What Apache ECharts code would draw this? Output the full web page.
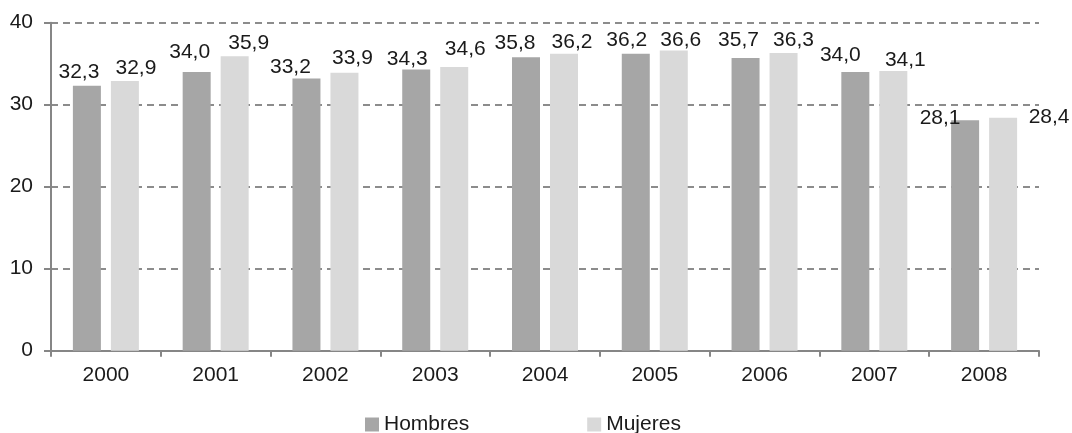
<!DOCTYPE html>
<html>
<head>
<meta charset="utf-8">
<script src="https://cdn.jsdelivr.net/npm/echarts@6/dist/echarts.min.js"></script>
<style>
  html, body { margin: 0; padding: 0; background: #ffffff; }
  #chart { width: 1072px; height: 433px; }
</style>
</head>
<body>
<div id="chart"></div>
<script>
// Years on the category axis
const years = ['2000', '2001', '2002', '2003', '2004', '2005', '2006', '2007', '2008'];
// Values per group
const hombres = [32.3, 34.0, 33.2, 34.3, 35.8, 36.2, 35.7, 34.0, 28.1];
const mujeres = [32.9, 35.9, 33.9, 34.6, 36.2, 36.6, 36.3, 34.1, 28.4];
// Value axis ticks
const yTicks = [0, 10, 20, 30, 40];

// Hand-placed nudges for the value labels, [dx, dy] from the top of each bar
const hombresLabelShift = [[-8, -3], [-7, -9], [-16, -1], [-9, 0], [-11, -3], [-9, -3], [-7, -7], [-15, -6], [-25, 8]];
const mujeresLabelShift = [[11, -2], [14, -3], [8, -4], [11, -7], [8, -1], [7, 0], [10, -2], [12, 0], [46, 10]];

const TEXT = '#1a1a1a';
const FONT = '"Liberation Sans", Arial, sans-serif';

function fmt(v) { return v.toFixed(1).replace('.', ','); }

function withLabels(values, shifts) {
  return values.map((v, i) => ({
    value: v,
    label: { offset: shifts[i] }
  }));
}

const labelStyle = {
  show: true,
  position: 'top',
  distance: 0,
  color: TEXT,
  fontFamily: FONT,
  fontSize: 21,
  formatter: p => fmt(p.value)
};

const chart = echarts.init(document.getElementById('chart'), null, { renderer: 'canvas' });
chart.setOption({
  animation: false,
  backgroundColor: '#ffffff',
  textStyle: { fontFamily: FONT, color: TEXT },
  grid: { left: 51, right: 33, top: 22.7, bottom: 82.3, containLabel: false },
  legend: {
    left: 360,
    top: 409,
    icon: 'rect',
    itemWidth: 14,
    itemHeight: 14,
    itemGap: 118,
    textStyle: { color: TEXT, fontFamily: FONT, fontSize: 21 },
    data: ['Hombres', 'Mujeres']
  },
  xAxis: {
    type: 'category',
    data: years,
    axisLine: { lineStyle: { color: '#868686', width: 2 } },
    axisTick: { show: true, alignWithLabel: false, length: 6, lineStyle: { color: '#868686', width: 2 } },
    axisLabel: { color: TEXT, fontFamily: FONT, fontSize: 21, margin: 14 },
    splitLine: { show: false }
  },
  yAxis: {
    type: 'value',
    min: yTicks[0],
    max: yTicks[yTicks.length - 1],
    interval: yTicks[1] - yTicks[0],
    axisLine: { show: true, lineStyle: { color: '#868686', width: 2 } },
    axisTick: { show: true, length: 7, lineStyle: { color: '#868686', width: 2 } },
    axisLabel: { color: TEXT, fontFamily: FONT, fontSize: 21, margin: 18 },
    splitLine: { show: true, lineStyle: { color: '#8c8c8c', width: 2, type: [7, 5] } }
  },
  series: [
    {
      name: 'Hombres',
      type: 'bar',
      barWidth: 28,
      barGap: '35.7%',
      itemStyle: { color: '#a6a6a6' },
      label: labelStyle,
      data: withLabels(hombres, hombresLabelShift)
    },
    {
      name: 'Mujeres',
      type: 'bar',
      barWidth: 28,
      barGap: '35.7%',
      itemStyle: { color: '#d9d9d9' },
      label: labelStyle,
      data: withLabels(mujeres, mujeresLabelShift)
    }
  ]
});
</script>
</body>
</html>
